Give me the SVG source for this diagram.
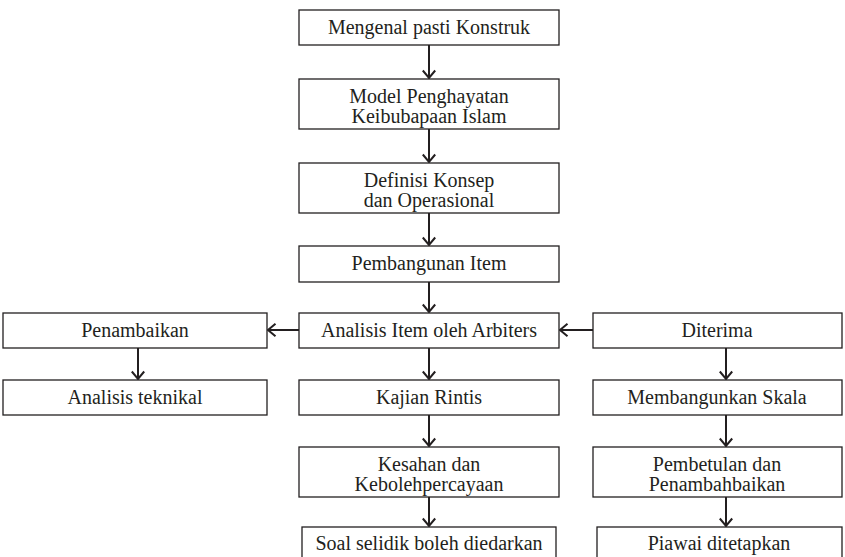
<svg xmlns="http://www.w3.org/2000/svg" width="845" height="557" viewBox="0 0 845 557" font-family="Liberation Serif, Times New Roman, DejaVu Serif, serif">
<style>
.b{fill:#fff;stroke:#231f20;stroke-width:1.3}
.t{font-size:20px;fill:#231f20;text-anchor:middle}
.c{stroke:#231f20;stroke-width:2;fill:none}
</style>
<defs>
<marker id="ah" markerWidth="14" markerHeight="14" refX="10" refY="7" orient="auto" markerUnits="userSpaceOnUse">
<path d="M2.5,0.8 L10,7 L2.5,13.2" fill="none" stroke="#231f20" stroke-width="2"/>
</marker>
</defs>
<rect width="845" height="557" fill="#fff"/>
<g id="connectors">
<line class="c" x1="429" y1="45" x2="429" y2="78" marker-end="url(#ah)"/>
<line class="c" x1="429" y1="129" x2="429" y2="162" marker-end="url(#ah)"/>
<line class="c" x1="429" y1="213" x2="429" y2="245" marker-end="url(#ah)"/>
<line class="c" x1="429" y1="282" x2="429" y2="312" marker-end="url(#ah)"/>
<line class="c" x1="429" y1="348" x2="429" y2="379" marker-end="url(#ah)"/>
<line class="c" x1="429" y1="415" x2="429" y2="446" marker-end="url(#ah)"/>
<line class="c" x1="429" y1="497" x2="429" y2="526" marker-end="url(#ah)"/>
<line class="c" x1="299" y1="330" x2="268" y2="330" marker-end="url(#ah)"/>
<line class="c" x1="593" y1="330" x2="560" y2="330" marker-end="url(#ah)"/>
<line class="c" x1="138" y1="348" x2="138" y2="379" marker-end="url(#ah)"/>
<line class="c" x1="726" y1="348" x2="726" y2="379" marker-end="url(#ah)"/>
<line class="c" x1="726" y1="415" x2="726" y2="446" marker-end="url(#ah)"/>
<line class="c" x1="726" y1="497" x2="726" y2="526" marker-end="url(#ah)"/>
</g>
<g id="n1"><rect class="b" x="299" y="10" width="260" height="35"/><text class="t" x="429" y="34">Mengenal pasti Konstruk</text></g>
<g id="n2"><rect class="b" x="299" y="79" width="260" height="50"/><text class="t" x="429" y="103">Model Penghayatan</text><text class="t" x="429" y="123">Keibubapaan Islam</text></g>
<g id="n3"><rect class="b" x="299" y="163" width="260" height="50"/><text class="t" x="429" y="187">Definisi Konsep</text><text class="t" x="429" y="207">dan Operasional</text></g>
<g id="n4"><rect class="b" x="299" y="246" width="260" height="36"/><text class="t" x="429" y="270">Pembangunan Item</text></g>
<g id="n5"><rect class="b" x="299" y="313" width="260" height="35"/><text class="t" x="429" y="337">Analisis Item oleh Arbiters</text></g>
<g id="n6"><rect class="b" x="299" y="380" width="260" height="35"/><text class="t" x="429" y="404">Kajian Rintis</text></g>
<g id="n7"><rect class="b" x="299" y="447" width="260" height="50"/><text class="t" x="429" y="471">Kesahan dan</text><text class="t" x="429" y="491">Kebolehpercayaan</text></g>
<g id="n8"><rect class="b" x="302" y="527" width="254" height="35"/><text class="t" x="429" y="550">Soal selidik boleh diedarkan</text></g>
<g id="n9"><rect class="b" x="3" y="313" width="264" height="35"/><text class="t" x="135" y="337">Penambaikan</text></g>
<g id="n10"><rect class="b" x="3" y="380" width="264" height="35"/><text class="t" x="135" y="404">Analisis teknikal</text></g>
<g id="n11"><rect class="b" x="593" y="313" width="249" height="35"/><text class="t" x="717" y="337">Diterima</text></g>
<g id="n12"><rect class="b" x="593" y="380" width="249" height="35"/><text class="t" x="717" y="404">Membangunkan Skala</text></g>
<g id="n13"><rect class="b" x="593" y="447" width="249" height="50"/><text class="t" x="717" y="471">Pembetulan dan</text><text class="t" x="717" y="491">Penambahbaikan</text></g>
<g id="n14"><rect class="b" x="597" y="527" width="245" height="35"/><text class="t" x="719" y="550">Piawai ditetapkan</text></g>
</svg>
